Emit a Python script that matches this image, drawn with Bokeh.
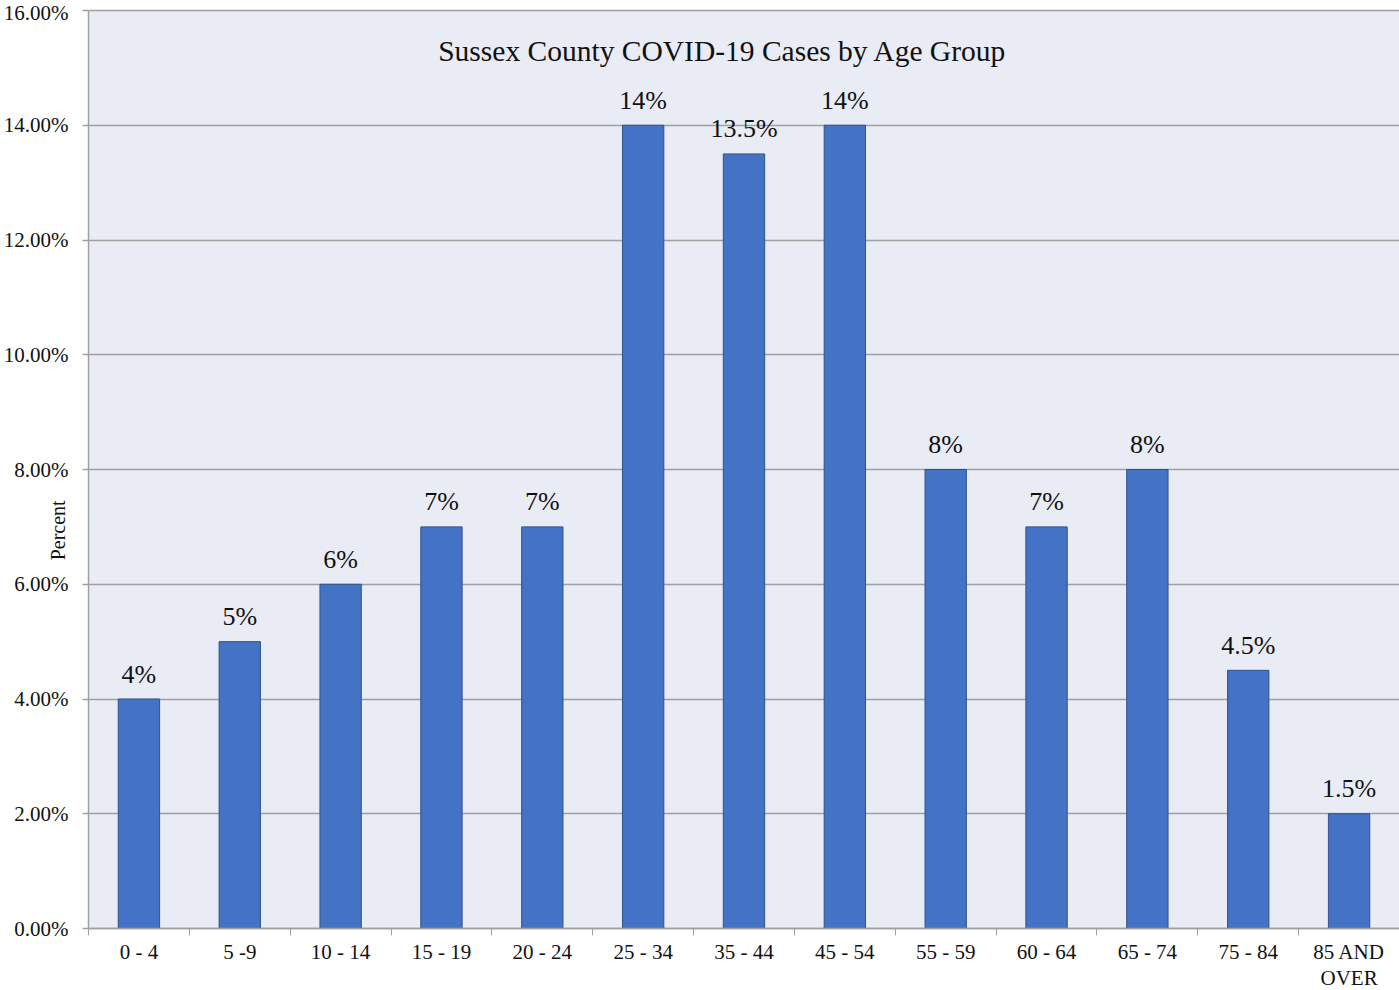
from bokeh.plotting import figure
from bokeh.models import (ColumnDataSource, FixedTicker, PrintfTickFormatter, Label, LabelSet,
                          Range1d, BoxAnnotation)
from bokeh.embed import file_html
from bokeh.resources import INLINE

categories = ["0 - 4", "5 -9", "10 - 14", "15 - 19", "20 - 24", "25 - 34", "35 - 44",
              "45 - 54", "55 - 59", "60 - 64", "65 - 74", "75 - 84", "85 AND\nOVER"]
values = [4, 5, 6, 7, 7, 14, 13.5, 14, 8, 7, 8, 4.5, 2]
labels = ["4%", "5%", "6%", "7%", "7%", "14%", "13.5%", "14%", "8%", "7%", "8%", "4.5%", "1.5%"]
y_ticks = [0, 2, 4, 6, 8, 10, 12, 14, 16]
title_text = "Sussex County COVID-19 Cases by Age Group"
y_label = "Percent"

FONT = "Liberation Serif"
W, H = 1399, 990
LEFT, TOP, BOTTOM = 88, 10, 62          # page margins around the plotting area
n = len(categories)
ymax = y_ticks[-1]
kx = (W - LEFT) / n                     # px per category
ky = (H - TOP - BOTTOM) / ymax          # px per percent
GRID = "#a0a0a0"

xs = [i + 0.5 for i in range(n)]
src = ColumnDataSource(dict(x=xs, top=values, lab=labels))

p = figure(width=W, height=H, output_backend="svg", toolbar_location=None,
           x_range=Range1d(-LEFT / kx, n), y_range=Range1d(-BOTTOM / ky, ymax + TOP / ky),
           min_border_left=0, min_border_right=0, min_border_top=0, min_border_bottom=0)
p.background_fill_color = "white"
p.border_fill_color = "white"
p.outline_line_color = None

# plot-area background
p.add_layout(BoxAnnotation(left=0, right=n, bottom=0, top=ymax, fill_color="#e9ebf5",
                           fill_alpha=1, line_color=None, level="image"))

# horizontal gridlines behind the bars
p.xgrid.visible = False
yg = p.ygrid[0]
yg.ticker = FixedTicker(ticks=y_ticks)
yg.grid_line_color = GRID
yg.grid_line_width = 1.5
if "cross_bounds" in yg.properties():
    yg.cross_bounds = (0, n)
else:
    p.add_layout(BoxAnnotation(right=0, fill_color="white", fill_alpha=1,
                               line_color=None, level="underlay"))

p.vbar(x="x", top="top", width=0.41, bottom=0, source=src,
       fill_color="#4472c4", line_color="#2f528f", line_width=1)

p.add_layout(LabelSet(x="x", y="top", text="lab", source=src, y_offset=25,
                      text_align="center", text_baseline="middle",
                      text_font=FONT, text_font_size="26px", text_color="#111111"))

# x axis (drawn at y = 0)
p.xaxis.fixed_location = 0
p.xaxis.bounds = (0, n)
p.xaxis.ticker = FixedTicker(ticks=xs, minor_ticks=list(range(n + 1)))
p.xaxis.major_label_overrides = {x: c for x, c in zip(xs, categories)}
p.xaxis.major_tick_line_color = None
p.xaxis.major_tick_out = 6
p.xaxis.minor_tick_line_color = GRID
p.xaxis.minor_tick_out = 7
p.xaxis.minor_tick_in = 0
p.xaxis.axis_line_color = GRID
p.xaxis.axis_line_width = 1.5
p.xaxis.major_label_standoff = 4
p.xaxis.major_label_text_font = FONT
p.xaxis.major_label_text_font_size = "21px"
p.xaxis.major_label_text_line_height = 1.1
p.xaxis.major_label_text_color = "#111111"

# y axis (drawn at x = 0)
p.yaxis.fixed_location = 0
p.yaxis.bounds = (0, ymax)
p.yaxis.ticker = FixedTicker(ticks=y_ticks)
p.yaxis.formatter = PrintfTickFormatter(format="%.2f%%")
p.yaxis.minor_tick_line_color = None
p.yaxis.major_tick_line_color = GRID
p.yaxis.major_tick_line_width = 1.5
p.yaxis.major_tick_out = 6
p.yaxis.major_tick_in = 0
p.yaxis.axis_line_color = GRID
p.yaxis.axis_line_width = 1.5
p.yaxis.major_label_standoff = 14
p.yaxis.major_label_text_font = FONT
p.yaxis.major_label_text_font_size = "21px"
p.yaxis.major_label_text_color = "#111111"

p.add_layout(Label(x=6.287, y=15.3, text=title_text, text_align="center",
                   text_baseline="middle", text_font=FONT, text_font_size="29.5px",
                   text_color="#111111"))
p.add_layout(Label(x=-0.307, y=6.94, text=y_label, angle=90, angle_units="deg",
                   text_align="center", text_baseline="middle", text_font=FONT,
                   text_font_size="20px", text_color="#111111"))

open("out.html", "w").write(file_html(p, INLINE))
